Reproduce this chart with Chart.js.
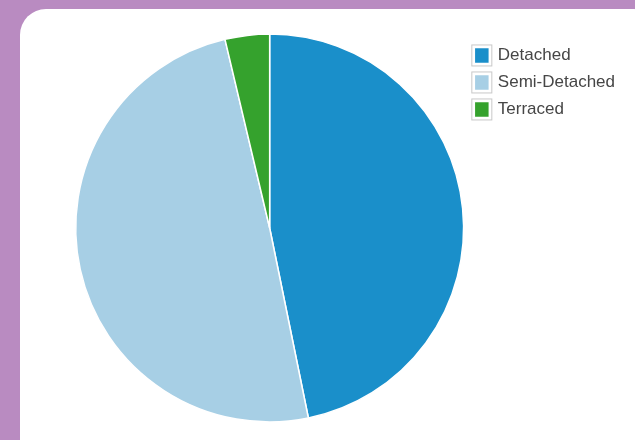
<!DOCTYPE html>
<html>
<head>
<meta charset="utf-8">
<script src="https://cdn.jsdelivr.net/npm/chart.js@4"></script>
<style>
  html, body { margin: 0; padding: 0; background: #b98bc1; overflow: hidden; }
  #card {
    position: absolute; left: 20px; top: 9px; width: 640px; height: 460px;
    background: #fff; border-radius: 26px;
  }
  #wrap { position: absolute; left: 0; top: 0; width: 615px; height: 431px; }
</style>
</head>
<body>
<div id="card"><div id="wrap"><canvas id="pieChart"></canvas></div></div>
<script>
// --- DATA ---
const categories = ["Detached", "Semi-Detached", "Terraced"];
const shares = [46.8, 49.5, 3.7];
const colours = ["#1a8fca", "#a7cfe5", "#35a22d"];

// draws the grey frame round each legend swatch
const legendFrames = {
    id: "legendFrames",
    afterDraw(chart) {
        const legend = chart.legend;
        if (!legend || !legend.legendHitBoxes) return;
        const ctx = chart.ctx;
        const boxW = legend.options.labels.boxWidth;
        const boxH = legend.options.labels.boxHeight;
        ctx.save();
        ctx.strokeStyle = "#c8c8c8";
        ctx.lineWidth = 1;
        legend.legendHitBoxes.forEach(hb => {
            const y = hb.top + (hb.height - boxH) / 2;
            ctx.strokeRect(hb.left - 2.5, y - 2.5, boxW + 5, boxH + 5);
        });
        ctx.restore();
    }
};

let ctx = document.getElementById("pieChart").getContext("2d");

new Chart(ctx, {
    type: "pie",
    data: {
        labels: categories,
        datasets: [{
            data: shares,
            backgroundColor: colours,
            borderColor: "#ffffff",
            borderWidth: 1.5
        }]
    },
    options: {
        responsive: true,
        maintainAspectRatio: false,
        animation: false,
        layout: { padding: { top: 24, bottom: 17, left: 55, right: 10 } },
        plugins: {
            legend: {
                position: "right",
                align: "start",
                // empty title only used as a small top offset
                title: { display: true, text: "", padding: 0, font: { size: 3.3 } },
                labels: {
                    boxWidth: 15,
                    boxHeight: 16,
                    padding: 10,
                    color: "#464646",
                    font: { family: "'Liberation Sans', Arial, sans-serif", size: 17 }
                }
            },
            tooltip: { enabled: false }
        }
    },
    plugins: [legendFrames]
});
</script>
</body>
</html>
